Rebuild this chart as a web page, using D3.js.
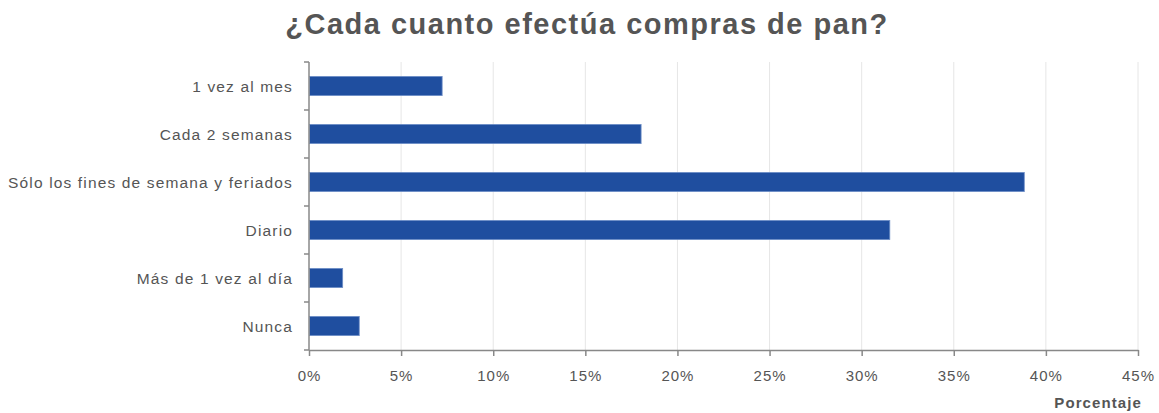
<!DOCTYPE html>
<html>
<head>
<meta charset="utf-8">
<script src="https://cdn.jsdelivr.net/npm/d3@7/dist/d3.min.js"></script>
<style>
  html, body { margin: 0; padding: 0; background: #fff; }
  svg { display: block; font-family: "Liberation Sans", Arial, sans-serif; }
</style>
</head>
<body>
<svg id="chart" width="1159" height="413"></svg>
<script>
// Survey: how often bread is bought
const categories = [
  "1 vez al mes",
  "Cada 2 semanas",
  "Sólo los fines de semana y feriados",
  "Diario",
  "Más de 1 vez al día",
  "Nunca"
];
const values = [7.2, 18.0, 38.8, 31.5, 1.8, 2.7];
const xTicks = [0, 5, 10, 15, 20, 25, 30, 35, 40, 45];
const titleText = "¿Cada cuanto efectúa compras de pan?";
const xAxisTitle = "Porcentaje";

const svg = d3.select("#chart");
const margin = { left: 309, right: 21, top: 62, bottom: 63 };
const W = 1159, H = 413;
const innerW = W - margin.left - margin.right;
const innerH = H - margin.top - margin.bottom;

const x = d3.scaleLinear().domain([0, 45]).range([0, innerW]);
const y = d3.scaleBand().domain(categories).range([0, innerH]).paddingInner(0.6).paddingOuter(0.3);

const g = svg.append("g").attr("transform", `translate(${margin.left},${margin.top})`);

// vertical grid lines
g.selectAll(".grid").data(xTicks.slice(1)).enter().append("line")
  .attr("x1", d => x(d)).attr("x2", d => x(d))
  .attr("y1", 0).attr("y2", innerH)
  .attr("stroke", "#e6e6e6").attr("stroke-width", 1);

// bars
g.selectAll(".bar").data(values).enter().append("rect")
  .attr("x", 0.5)
  .attr("y", (d, i) => y(categories[i]))
  .attr("width", d => x(d))
  .attr("height", y.bandwidth())
  .attr("fill", "#1f4e9f")
  .attr("stroke", "#6f8fc7")
  .attr("stroke-width", 0.8);

// x axis
const xAxis = d3.axisBottom(x).tickValues(xTicks).tickFormat(d => d + "%").tickSize(6).tickSizeOuter(0);
const gx = g.append("g").attr("transform", `translate(0,${innerH})`).call(xAxis);
gx.select(".domain").attr("stroke", "#888").attr("stroke-width", 1.5);
gx.selectAll(".tick line").attr("stroke", "#888").attr("stroke-width", 1.5);
gx.selectAll("text")
  .attr("fill", "#555")
  .attr("font-size", 15)
  .attr("letter-spacing", 1)
  .attr("y", 0)
  .attr("dy", 31);

// y axis: line with ticks on category boundaries
g.append("line").attr("x1", 0).attr("x2", 0).attr("y1", 0).attr("y2", innerH)
  .attr("stroke", "#888").attr("stroke-width", 1.5);
const step = innerH / categories.length;
g.selectAll(".ytick").data(d3.range(categories.length + 1)).enter().append("line")
  .attr("x1", -5).attr("x2", 0)
  .attr("y1", i => i * step).attr("y2", i => i * step)
  .attr("stroke", "#888").attr("stroke-width", 1.5);
g.selectAll(".ylabel").data(categories).enter().append("text")
  .attr("x", -16)
  .attr("y", d => y(d) + y.bandwidth() / 2)
  .attr("dy", "0.36em")
  .attr("text-anchor", "end")
  .attr("font-size", 15.5)
  .attr("letter-spacing", 1.15)
  .attr("fill", "#555")
  .text(d => d);

// title
svg.append("text")
  .attr("x", 587).attr("y", 34)
  .attr("text-anchor", "middle")
  .attr("font-size", 29)
  .attr("font-weight", "bold")
  .attr("letter-spacing", 1.5)
  .attr("fill", "#555")
  .text(titleText);

// x axis title
svg.append("text")
  .attr("x", 1142).attr("y", 408)
  .attr("text-anchor", "end")
  .attr("font-size", 15)
  .attr("font-weight", "bold")
  .attr("letter-spacing", 1.1)
  .attr("fill", "#555")
  .text(xAxisTitle);
</script>
</body>
</html>
